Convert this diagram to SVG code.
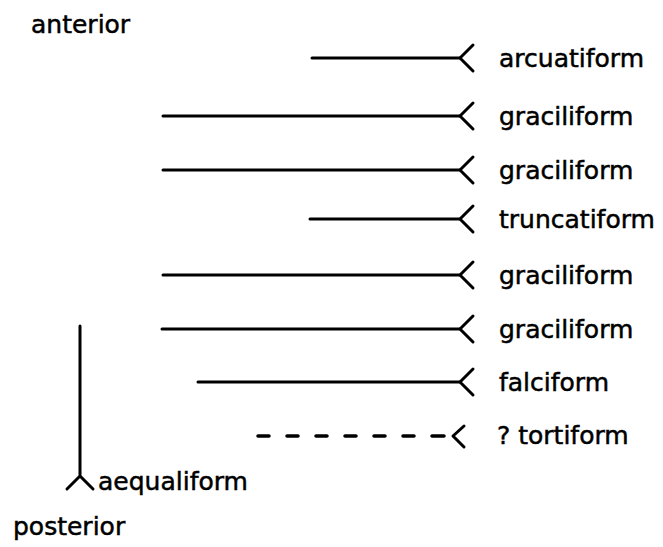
<svg xmlns="http://www.w3.org/2000/svg" width="663" height="547" viewBox="0 0 663 547">
<style>
.t{font-family:"DejaVu Sans","Liberation Sans",sans-serif;font-size:25px;fill:#000;stroke:#000;stroke-width:0.5}
.l{stroke:#000;stroke-width:3;fill:none;stroke-linecap:round;stroke-linejoin:round}
</style>
<defs>
<path id="fork" d="M0 0 L13 -13 M0 0 L13 13" class="l"/>
</defs>
<rect width="663" height="547" fill="#fff"/>
<g id="anterior"><text class="t" x="31" y="33">anterior</text></g>
<g id="posterior"><text class="t" x="13" y="535">posterior</text></g>
<g id="connectors">
<path class="l" d="M312 58H460"/><use href="#fork" x="460" y="58"/>
<path class="l" d="M163 116H460"/><use href="#fork" x="460" y="116"/>
<path class="l" d="M163 170H460"/><use href="#fork" x="460" y="170"/>
<path class="l" d="M310 219H460"/><use href="#fork" x="460" y="219"/>
<path class="l" d="M163 275H460"/><use href="#fork" x="460" y="275"/>
<path class="l" d="M162 329H460"/><use href="#fork" x="460" y="329"/>
<path class="l" d="M198 382H460"/><use href="#fork" x="460" y="382"/>
<path class="l" style="stroke-width:3.5" d="M258 436h11M287 436h11M316 436h11M345 436h11M374 436h11M403 436h11M432 436h12"/>
<path class="l" d="M464 426L453 436L464 447"/>
<path class="l" d="M80 326V476M67 489L80 476L93 489"/>
</g>
<g id="arcuatiform"><text class="t" x="499" y="67">arcuatiform</text></g>
<g id="graciliform1"><text class="t" x="499" y="125">graciliform</text></g>
<g id="graciliform2"><text class="t" x="499" y="179">graciliform</text></g>
<g id="truncatiform"><text class="t" x="499" y="228">truncatiform</text></g>
<g id="graciliform3"><text class="t" x="499" y="284">graciliform</text></g>
<g id="graciliform4"><text class="t" x="499" y="338">graciliform</text></g>
<g id="falciform"><text class="t" x="499" y="391">falciform</text></g>
<g id="tortiform"><text class="t" x="497" y="444">? tortiform</text></g>
<g id="aequaliform"><text class="t" x="98" y="490">aequaliform</text></g>
</svg>
